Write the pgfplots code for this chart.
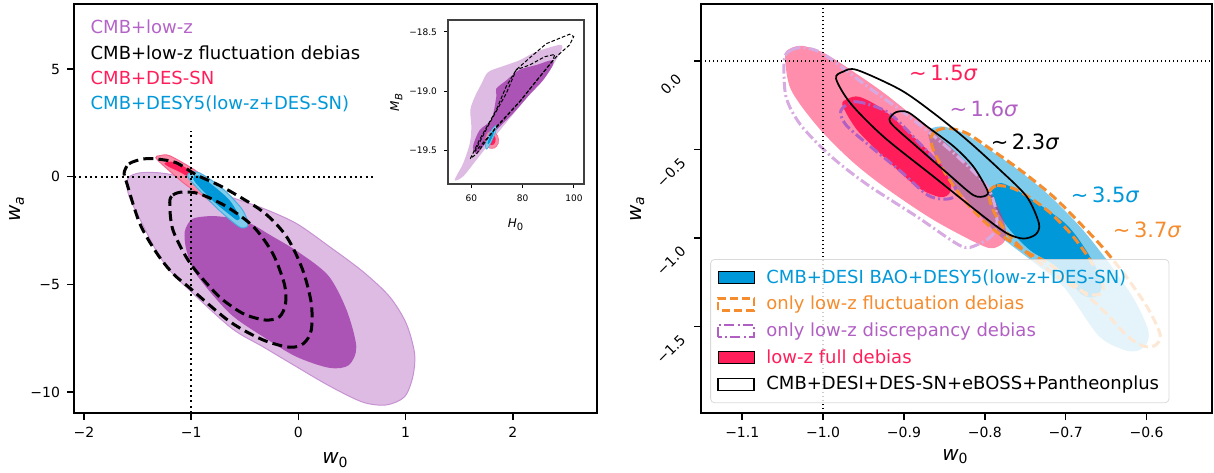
\documentclass[border=0pt]{standalone}
\usepackage{fontspec}
\setmainfont{DejaVu Sans}
\usepackage{pgfplots}
\pgfplotsset{compat=1.18}

\definecolor{lpur}{RGB}{222,187,227}
\definecolor{lpuredge}{RGB}{200,145,212}
\definecolor{dpur}{RGB}{172,84,182}
\definecolor{lred}{RGB}{250,140,168}
\definecolor{lrededge}{RGB}{245,100,140}
\definecolor{dred}{RGB}{255,30,90}
\definecolor{lblue}{RGB}{128,204,236}
\definecolor{lblueedge}{RGB}{70,175,225}
\definecolor{dblue}{RGB}{0,152,216}
\definecolor{corange}{RGB}{245,140,45}
\definecolor{ddpur}{RGB}{178,95,196}
\definecolor{ldpur}{RGB}{215,170,225}
\definecolor{txtpur}{RGB}{180,100,200}

\pgfplotsset{
  panel/.style={scale only axis, anchor=south west,
    axis line style={line width=0.8pt}, tick style={black, line width=0.8pt},
    major tick length=3.5pt, tick align=outside, xtick pos=bottom, ytick pos=left,
    minor tick num=0,
    ticklabel style={font=\fontsize{7}{8}\selectfont},
    label style={font=\fontsize{10}{12}\selectfont}},
  rectleg/.style={legend image code/.code={\draw[sharp corners, ##1, fill opacity=1, draw opacity=1] (0pt,-3pt) rectangle (18pt,3pt);}},
}

\begin{document}
\begin{tikzpicture}
\useasboundingbox (0,0) rectangle (607pt,236pt);

% ---------------- left panel ----------------
\begin{axis}[panel, at={(37pt,29.5pt)}, width=261.5pt, height=204.5pt,
  xmin=-2.093, xmax=2.785, ymin=-10.975, ymax=8.02,
  xtick={-2,-1,0,1,2}, xticklabels={−2,−1,0,1,2},
  ytick={-10,-5,0,5}, yticklabels={−10,−5,0,5},
  xlabel={\textit{w}\textsubscript{0}}, ylabel={\textit{w}\textsubscript{\textit{a}}},
  xlabel style={at={(axis description cs:0.5,-0.115)}, anchor=center},
  ylabel style={at={(axis description cs:-0.109,0.5)}, anchor=center}]

% CMB+low-z
\addplot[fill=lpur, draw=lpuredge, line width=0.5pt, smooth cycle] coordinates {
 (-1.60,-0.25) (-1.57,0.02) (-1.50,0.16) (-1.40,0.20) (-1.28,0.17) (-1.14,0.04)
 (-0.90,-0.40) (-0.64,-0.93) (-0.33,-1.47) (-0.02,-2.17) (0.29,-3.25) (0.60,-4.40)
 (0.85,-5.57) (1.005,-6.81) (1.083,-8.20) (1.067,-9.29) (0.99,-10.22) (0.82,-10.60)
 (0.60,-10.47) (0.29,-9.72) (-0.02,-8.82) (-0.33,-7.90) (-0.62,-7.05) (-1.01,-5.30)
 (-1.20,-4.35) (-1.33,-3.40) (-1.48,-1.95) (-1.58,-0.90)};
\addplot[fill=dpur, draw=none, smooth cycle] coordinates {
 (-1.06,-2.55) (-1.00,-2.00) (-0.90,-1.86) (-0.75,-1.84) (-0.50,-2.05) (-0.25,-2.75)
 (0.00,-3.50) (0.28,-4.60) (0.45,-6.20) (0.54,-7.90) (0.47,-8.75) (0.29,-8.88)
 (-0.02,-8.36) (-0.33,-7.43) (-0.64,-6.35) (-0.95,-4.55) (-1.045,-3.40)};

% CMB+DES-SN
\addplot[fill=lred, draw=lrededge, line width=0.5pt, smooth cycle] coordinates {
 (-1.33,0.88) (-1.29,0.98) (-1.20,0.97) (-0.98,0.35) (-0.80,-0.30) (-0.61,-1.05)
 (-0.47,-2.05) (-0.47,-2.27) (-0.53,-2.27) (-0.67,-1.80) (-0.86,-1.00) (-1.045,-0.39)
 (-1.23,0.39)};
\addplot[fill=dred, draw=none, smooth cycle] coordinates {
 (-1.25,0.62) (-1.19,0.70) (-1.10,0.56) (-0.95,0.10) (-0.85,-0.35) (-0.80,-0.58)
 (-0.84,-0.52) (-0.97,-0.18) (-1.10,0.20) (-1.21,0.46)};

% CMB+DESY5
\addplot[fill=lblue, draw=lblueedge, line width=0.5pt, smooth cycle] coordinates {
 (-1.03,0.12) (-0.98,0.22) (-0.92,0.17) (-0.80,-0.20) (-0.67,-0.72) (-0.52,-1.55)
 (-0.47,-2.20) (-0.50,-2.37) (-0.56,-2.30) (-0.73,-1.60) (-0.92,-0.65) (-1.02,-0.10)};
\addplot[fill=dblue, draw=none, smooth cycle] coordinates {
 (-0.97,0.02) (-0.93,0.06) (-0.85,-0.20) (-0.65,-1.05) (-0.55,-1.85) (-0.57,-2.02)
 (-0.62,-1.85) (-0.78,-1.20) (-0.93,-0.45) (-0.98,-0.12)};

% CMB+low-z fluctuation debias
\addplot[black, line width=1.5pt, dash pattern=on 5pt off 2.6pt, smooth cycle] coordinates {
 (-1.626,0.16) (-1.58,0.60) (-1.45,0.82) (-1.32,0.82) (-1.14,0.65) (-0.95,0.08)
 (-0.70,-0.50) (-0.33,-1.63) (-0.11,-2.79) (0.04,-4.33) (0.12,-5.88) (0.12,-7.12)
 (0.05,-7.74) (-0.08,-7.92) (-0.33,-7.58) (-0.64,-6.73) (-1.01,-5.18) (-1.17,-4.50)
 (-1.32,-3.56) (-1.48,-2.17) (-1.60,-0.31)};
\addplot[black, line width=1.5pt, dash pattern=on 5pt off 2.6pt, smooth cycle] coordinates {
 (-1.20,-1.20) (-1.17,-0.85) (-1.08,-0.71) (-0.92,-0.80) (-0.67,-1.39) (-0.42,-2.32)
 (-0.24,-3.56) (-0.13,-5.00) (-0.12,-5.90) (-0.175,-6.50) (-0.30,-6.66) (-0.49,-6.42)
 (-0.64,-5.96) (-0.77,-5.42) (-1.01,-4.02) (-1.17,-2.48)};

\addplot[black, line width=1pt, dash pattern=on 1pt off 1.65pt] coordinates {(-2.093,0) (0.72,0)};
\addplot[black, line width=1pt, dash pattern=on 1pt off 1.65pt] coordinates {(-1,-10.975) (-1,2.1)};
\end{axis}

\begin{scope}[font=\fontsize{9}{10}\selectfont]
\node[anchor=west, text=txtpur] at (41.8pt,222.6pt) {CMB+low-z};
\node[anchor=west, text=black]  at (41.8pt,209.6pt) {CMB+low-z fluctuation debias};
\node[anchor=west, text=dred]   at (41.8pt,197.1pt) {CMB+DES-SN};
\node[anchor=west, text=dblue]  at (41.8pt,184.1pt) {CMB+DESY5(low-z+DES-SN)};
\end{scope}

% ---------------- inset ----------------
\begin{axis}[scale only axis, anchor=south west, at={(224pt,144pt)}, width=68pt, height=82pt,
  axis background/.style={fill=white},
  axis line style={line width=0.8pt, black!75}, tick style={black, line width=0.5pt},
  major tick length=2pt, tick align=outside, xtick pos=bottom, ytick pos=left,
  xmin=50.9, xmax=103.9, ymin=-19.784, ymax=-18.40,
  xtick={60,80,100}, xticklabels={60,80,100},
  ytick={-19.5,-19,-18.5}, yticklabels={−19.5,−19.0,−18.5},
  ticklabel style={font=\fontsize{4.5}{5}\selectfont},
  label style={font=\fontsize{6}{7}\selectfont},
  xlabel={\textit{H}\textsubscript{0}}, ylabel={\textit{M}\textsubscript{\textit{B}}},
  xlabel style={at={(axis description cs:0.5,-0.25)}, anchor=center},
  ylabel style={at={(axis description cs:-0.38,0.5)}, anchor=center}]
\addplot[fill=lpur, draw=none, smooth cycle] coordinates {
 (53.5,-19.75) (56.8,-19.61) (59.4,-19.44) (60,-19.30) (59.6,-19.16) (61.3,-19.05)
 (63.9,-18.94) (66.5,-18.84) (72.3,-18.79) (78.8,-18.74) (84,-18.68) (89.2,-18.64)
 (94.4,-18.61) (95.5,-18.63) (93.8,-18.71) (90.5,-18.82) (85.3,-18.96) (78.8,-19.13)
 (72.3,-19.30) (67.1,-19.44) (62,-19.58) (56.8,-19.72)};
\addplot[fill=dpur, draw=none, smooth cycle] coordinates {
 (60.6,-19.47) (63.2,-19.33) (67.8,-19.24) (69.7,-19.05) (69.7,-18.98) (73.6,-18.91)
 (78.8,-18.82) (85.3,-18.78) (91.2,-18.74) (91.8,-18.78) (87.9,-18.91) (82.7,-19.03)
 (76.2,-19.19) (69.7,-19.33) (64.5,-19.47) (62,-19.53)};
\addplot[fill=lred, draw=lrededge, line width=0.3pt, smooth cycle] coordinates {
 (65.5,-19.40) (66.5,-19.35) (68.5,-19.34) (70.3,-19.38) (70.5,-19.44) (69,-19.48)
 (67,-19.48) (65.8,-19.45)};
\addplot[fill=dred, draw=none, smooth cycle] coordinates {
 (66.5,-19.40) (68,-19.36) (69.5,-19.40) (68.8,-19.45) (67,-19.45)};
\addplot[fill=lblue, draw=lblueedge, line width=0.3pt, smooth cycle] coordinates {
 (65.5,-19.46) (66.5,-19.38) (68.5,-19.31) (69.8,-19.29) (69.5,-19.34) (67.5,-19.44)
 (66,-19.49)};
\addplot[fill=dblue, draw=none, smooth cycle] coordinates {
 (66.3,-19.44) (67.5,-19.37) (69,-19.32) (68.5,-19.37) (67,-19.44)};
\addplot[black, line width=0.5pt, dash pattern=on 1.8pt off 1pt] coordinates {
 (59.6,-19.57) (63.2,-19.41) (69.7,-19.16) (73.6,-18.96) (77.5,-18.82) (82.7,-18.72)
 (89.2,-18.60) (98.3,-18.52) (99.9,-18.54) (98.3,-18.61) (93.1,-18.71) (86.6,-18.88)
 (78.8,-19.09) (69.7,-19.30) (62,-19.53) (59.6,-19.57)};
\addplot[black, line width=0.5pt, dash pattern=on 1.8pt off 1pt] coordinates {
 (61.3,-19.51) (67.1,-19.27) (73.6,-19.02) (77.5,-18.82) (82.7,-18.78) (88.6,-18.71)
 (92.5,-18.69) (91.8,-18.74) (86.6,-18.88) (78.8,-19.09) (69.7,-19.31) (63.2,-19.47)
 (61.3,-19.51)};
\end{axis}

% ---------------- right panel ----------------
\begin{axis}[panel, at={(350.5pt,29.5pt)}, width=255.5pt, height=204.5pt,
  xmin=-1.151, xmax=-0.519, ymin=-1.99, ymax=0.322,
  xtick={-1.1,-1.0,-0.9,-0.8,-0.7,-0.6}, xticklabels={−1.1,−1.0,−0.9,−0.8,−0.7,−0.6},
  ytick={-1.5,-1.0,-0.5,0}, yticklabels={−1.5,−1.0,−0.5,0.0},
  yticklabel style={rotate=45, anchor=center, xshift=-16.3pt},
  xlabel={\textit{w}\textsubscript{0}}, ylabel={\textit{w}\textsubscript{\textit{a}}},
  xlabel style={at={(axis description cs:0.498,-0.107)}, anchor=center},
  ylabel style={at={(axis description cs:-0.125,0.5)}, anchor=center},
  legend cell align=left,
  legend style={at={(0.018,0.024)}, anchor=south west, draw=black!18, fill=white,
    fill opacity=0.8, draw opacity=0.8, text opacity=1, rounded corners=2pt,
    font=\fontsize{9}{10}\selectfont, row sep=1pt, inner xsep=3pt, inner ysep=3pt,
    /tikz/every odd column/.append style={column sep=3.5pt}}]

\addlegendimage{rectleg, fill=dblue, draw=none}
\addlegendentry{\textcolor{dblue}{CMB+DESI BAO+DESY5(low-z+DES-SN)}}
\addlegendimage{rectleg, fill=none, draw=corange, line width=1.4pt, dash pattern=on 4pt off 2pt}
\addlegendentry{\textcolor{corange}{only low-z fluctuation debias}}
\addlegendimage{rectleg, fill=none, draw=ddpur, line width=1.4pt, dash pattern=on 5pt off 1.6pt on 1pt off 1.6pt}
\addlegendentry{\textcolor{ddpur}{only low-z discrepancy debias}}
\addlegendimage{rectleg, fill=dred, draw=none}
\addlegendentry{\textcolor{dred}{low-z full debias}}
\addlegendimage{rectleg, fill=none, draw=black, line width=0.8pt}
\addlegendentry{CMB+DESI+DES-SN+eBOSS+Pantheonplus}

% CMB+DESI BAO+DESY5
\addplot[fill=dblue, fill opacity=0.5, draw=none, smooth cycle] coordinates {
 (-0.870,-0.41) (-0.855,-0.37) (-0.830,-0.40) (-0.806,-0.466) (-0.764,-0.598)
 (-0.723,-0.749) (-0.682,-0.938) (-0.645,-1.15) (-0.615,-1.35) (-0.598,-1.52)
 (-0.600,-1.60) (-0.612,-1.64) (-0.630,-1.63) (-0.660,-1.55) (-0.702,-1.28)
 (-0.743,-1.126) (-0.785,-0.975) (-0.826,-0.768) (-0.855,-0.600)};
\addplot[fill=dblue, draw=none, smooth cycle] coordinates {
 (-0.795,-0.74) (-0.780,-0.69) (-0.750,-0.76) (-0.700,-0.92) (-0.672,-1.09)
 (-0.655,-1.25) (-0.662,-1.33) (-0.680,-1.32) (-0.711,-1.164) (-0.744,-1.07)
 (-0.772,-0.938) (-0.790,-0.80)};

% low-z full debias
\addplot[fill=dred, fill opacity=0.5, draw=none, smooth cycle] coordinates {
 (-1.047,0.03) (-1.040,0.072) (-1.025,0.085) (-0.999,0.045) (-0.966,-0.05)
 (-0.925,-0.18) (-0.884,-0.33) (-0.842,-0.49) (-0.800,-0.69) (-0.777,-0.90)
 (-0.774,-1.00) (-0.782,-1.045) (-0.800,-1.05) (-0.863,-0.90) (-0.925,-0.71)
 (-0.966,-0.56) (-1.007,-0.37) (-1.040,-0.16)};
\addplot[fill=dred, draw=none, smooth cycle] coordinates {
 (-0.976,-0.25) (-0.970,-0.215) (-0.955,-0.203) (-0.925,-0.277) (-0.884,-0.447)
 (-0.855,-0.58) (-0.842,-0.70) (-0.845,-0.755) (-0.857,-0.768) (-0.884,-0.711)
 (-0.925,-0.542) (-0.958,-0.39)};

% only low-z discrepancy debias
\addplot[ldpur, line width=1.5pt, dash pattern=on 5pt off 1.6pt on 1pt off 1.6pt, smooth cycle] coordinates {
 (-1.048,0.01) (-1.040,0.06) (-1.025,0.075) (-1.000,0.04) (-0.945,-0.145)
 (-0.888,-0.334) (-0.838,-0.523) (-0.797,-0.711) (-0.785,-0.88) (-0.790,-0.98)
 (-0.810,-1.04) (-0.830,-1.045) (-0.884,-0.88) (-0.945,-0.70) (-0.990,-0.54)
 (-1.028,-0.36) (-1.046,-0.20)};
\addplot[ddpur, line width=1.5pt, dash pattern=on 5pt off 1.6pt on 1pt off 1.6pt, smooth cycle] coordinates {
 (-0.978,-0.28) (-0.960,-0.23) (-0.920,-0.29) (-0.884,-0.45) (-0.850,-0.62)
 (-0.835,-0.74) (-0.845,-0.78) (-0.870,-0.76) (-0.905,-0.62) (-0.945,-0.47)
 (-0.972,-0.36)};

% only low-z fluctuation debias
\addplot[corange, line width=1.5pt, dash pattern=on 4.5pt off 2.2pt, smooth cycle] coordinates {
 (-0.867,-0.44) (-0.860,-0.395) (-0.845,-0.38) (-0.822,-0.409) (-0.797,-0.485)
 (-0.756,-0.617) (-0.715,-0.768) (-0.682,-0.919) (-0.655,-1.05) (-0.625,-1.22)
 (-0.598,-1.40) (-0.583,-1.55) (-0.590,-1.61) (-0.605,-1.61) (-0.625,-1.55)
 (-0.658,-1.39) (-0.715,-1.164) (-0.752,-1.07) (-0.793,-0.938) (-0.822,-0.806)
 (-0.846,-0.655) (-0.862,-0.52)};
\addplot[corange, line width=1.5pt, dash pattern=on 4.5pt off 2.2pt, smooth cycle] coordinates {
 (-0.795,-0.75) (-0.785,-0.705) (-0.760,-0.73) (-0.723,-0.843) (-0.694,-0.975)
 (-0.672,-1.11) (-0.655,-1.25) (-0.655,-1.31) (-0.670,-1.32) (-0.700,-1.25)
 (-0.747,-1.088) (-0.772,-0.975) (-0.789,-0.85)};

% CMB+DESI+DES-SN+eBOSS+Pantheonplus
\addplot[black, line width=0.85pt, smooth cycle] coordinates {
 (-0.984,-0.10) (-0.975,-0.06) (-0.958,-0.051) (-0.904,-0.164) (-0.863,-0.296)
 (-0.822,-0.447) (-0.781,-0.617) (-0.748,-0.768) (-0.733,-0.919) (-0.737,-0.98)
 (-0.752,-1.004) (-0.772,-0.976) (-0.801,-0.881) (-0.863,-0.655) (-0.925,-0.429)
 (-0.966,-0.24)};
\addplot[black, line width=0.85pt, smooth cycle] coordinates {
 (-0.918,-0.33) (-0.910,-0.29) (-0.895,-0.29) (-0.871,-0.372) (-0.838,-0.485)
 (-0.814,-0.598) (-0.797,-0.73) (-0.799,-0.762) (-0.814,-0.759) (-0.846,-0.636)
 (-0.884,-0.485) (-0.912,-0.372)};

\addplot[black, line width=0.7pt, dash pattern=on 0.7pt off 1.3pt] coordinates {(-1.151,0) (-0.519,0)};
\addplot[black, line width=0.7pt, dash pattern=on 0.7pt off 1.3pt] coordinates {(-1,-1.99) (-1,0.322)};

\begin{scope}[font=\fontsize{10.5}{12}\selectfont, inner sep=0pt]
\node[anchor=west, text=dred]    at (axis cs:-0.894,-0.070) {∼\,1.5\textit{σ}};
\node[anchor=west, text=ddpur]   at (axis cs:-0.844,-0.268) {∼\,1.6\textit{σ}};
\node[anchor=west, text=black]   at (axis cs:-0.793,-0.457) {∼\,2.3\textit{σ}};
\node[anchor=west, text=dblue]   at (axis cs:-0.694,-0.759) {∼\,3.5\textit{σ}};
\node[anchor=west, text=corange] at (axis cs:-0.642,-0.956) {∼\,3.7\textit{σ}};
\end{scope}
\end{axis}
\end{tikzpicture}
\end{document}
